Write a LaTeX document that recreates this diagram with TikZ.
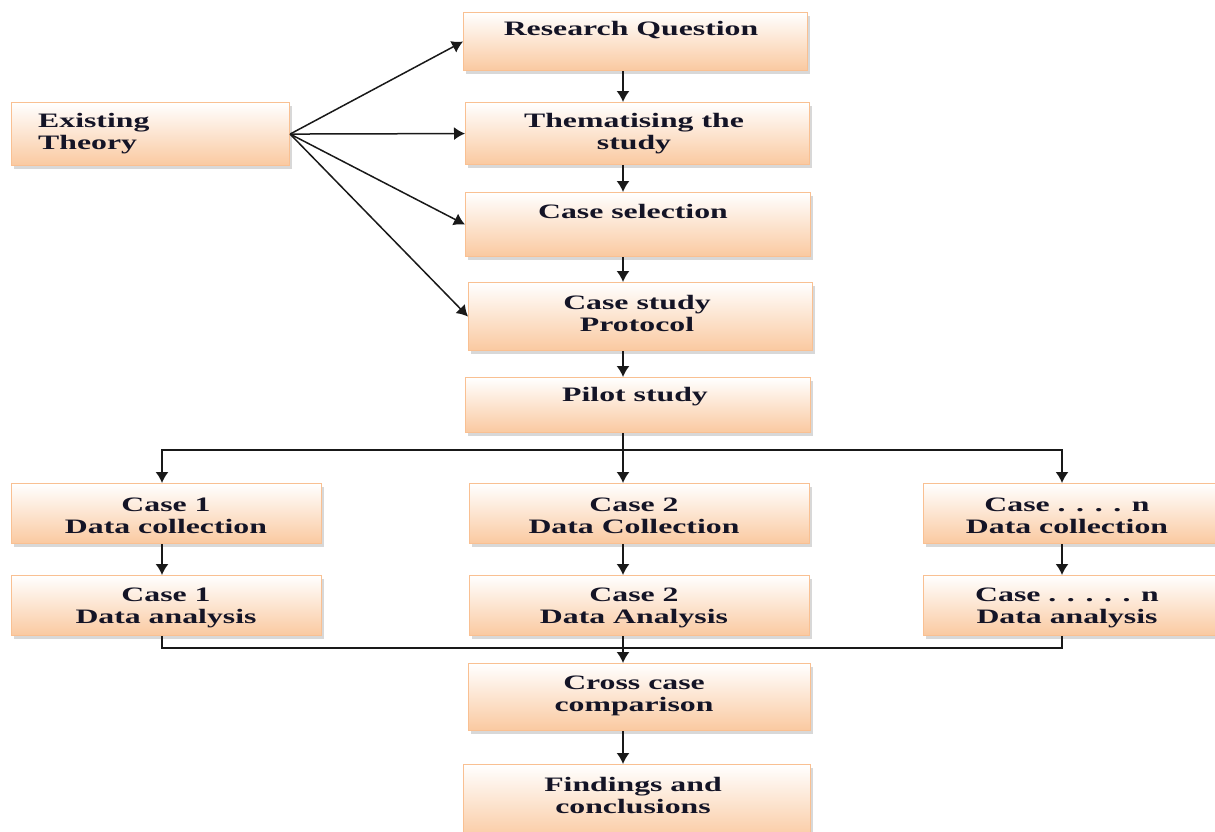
\documentclass[tikz,border=0pt]{standalone}
\usepackage{fontspec}
\setmainfont{Liberation Serif}[FakeStretch=1.55]
\usetikzlibrary{arrows.meta}
\usetikzlibrary{shadows}

\definecolor{peach}{RGB}{250,201,160}
\definecolor{peachline}{RGB}{249,192,146}
\definecolor{ink}{RGB}{20,20,38}

% box from top left (x1,y1) to bottom right (x2,y2), y runs downwards
\newcommand\stage[5]{\node[stagebox, minimum width={#4-#2}, minimum height={#5-#3}] (#1) at (#2,#3) {};}

\begin{document}
\begin{tikzpicture}[x=1pt, y=-1pt, >={Latex[length=11pt,width=13pt]},
    stagebox/.style={draw=peachline, line width=1.1pt, top color=white, bottom color=peach,
        inner sep=0pt, anchor=north west,
        drop shadow={shadow xshift=2pt, shadow yshift=-3pt, fill=black!30}},
    stagetext/.style={font=\fontsize{20.5}{22}\selectfont\bfseries, text=ink, align=center, inner sep=0pt},
    link/.style={line width=1.5pt, draw=black!90}]
        \useasboundingbox (0,0) rectangle (1215,831);

        \coordinate (spine) at (623,0);
        \coordinate (left) at (162,0);
        \coordinate (right) at (1062,0);

        % boxes
        \stage{et}{11}{102}{289}{165}
        \stage{rq}{463}{12}{807}{70}
        \stage{th}{465}{102}{809}{164}
        \stage{cs}{465}{192}{810}{256}
        \stage{pr}{468}{282}{812}{350}
        \stage{pi}{465}{377}{810}{432}
        \stage{c1}{11}{483}{321}{543}
        \stage{c2}{469}{483}{809}{543}
        \stage{cn}{923}{483}{1222}{543}
        \stage{a1}{11}{575}{321}{635}
        \stage{a2}{469}{575}{809}{635}
        \stage{an}{923}{575}{1222}{635}
        \stage{cc}{468}{663}{810}{730}
        \stage{fc}{463}{764}{810}{840}

        % texts
        \node[stagetext, align=left, anchor=west] (et-t) at (38,134) {Existing\\Theory};
        \node[stagetext] (rq-t) at (631,30) {Research Question};
        \node[stagetext] (th-t) at (634,134) {Thematising the\\study};
        \node[stagetext] (cs-t) at (633,211) {Case selection};
        \node[stagetext] (pr-t) at (637,313) {Case study\\Protocol};
        \node[stagetext] (pi-t) at (635,397) {Pilot study};
        \node[stagetext] (c1-t) at (166,516) {Case 1\\Data collection};
        \node[stagetext] (c2-t) at (634,516) {Case 2\\Data Collection};
        \node[stagetext] (cn-t) at (1067,516) {Case . . . . n\\Data collection};
        \node[stagetext] (a1-t) at (166,608) {Case 1\\Data analysis};
        \node[stagetext] (a2-t) at (634,608) {Case 2\\Data Analysis};
        \node[stagetext] (an-t) at (1067,608) {Case . . . . . n\\Data analysis};
        \node[stagetext] (cc-t) at (634,696) {Cross case\\comparison};
        \node[stagetext] (fc-t) at (633,795) {Findings and\\conclusions};

        % theory feeds the first four steps
        \foreach \s in {rq,th,cs,pr}
            \draw[link, ->] (et.east) -- (\s.west);

        % main column
        \draw[link, ->] (rq.south -| spine) -- (th.north -| spine);
        \draw[link, ->] (th.south -| spine) -- (cs.north -| spine);
        \draw[link, ->] (cs.south -| spine) -- (pr.north -| spine);
        \draw[link, ->] (pr.south -| spine) -- (pi.north -| spine);

        % split into the cases
        \coordinate (split) at (623,450);
        \draw[link, ->] (pi.south -| spine) -- (c2.north -| spine);
        \draw[link, ->] (split -| right) -- (split -| left) -- (c1.north -| left);
        \draw[link, ->] (split) -- (split -| right) -- (cn.north -| right);

        \draw[link, ->] (c1.south -| left) -- (a1.north -| left);
        \draw[link, ->] (c2.south -| spine) -- (a2.north -| spine);
        \draw[link, ->] (cn.south -| right) -- (an.north -| right);

        % merge again
        \coordinate (merge) at (623,648);
        \draw[link] (a1.south -| left) -- (merge -| left) -- (merge -| right) -- (an.south -| right);
        \draw[link, ->] (a2.south -| spine) -- (cc.north -| spine);
        \draw[link, ->] (cc.south -| spine) -- (fc.north -| spine);

    \end{tikzpicture}
\end{document}
